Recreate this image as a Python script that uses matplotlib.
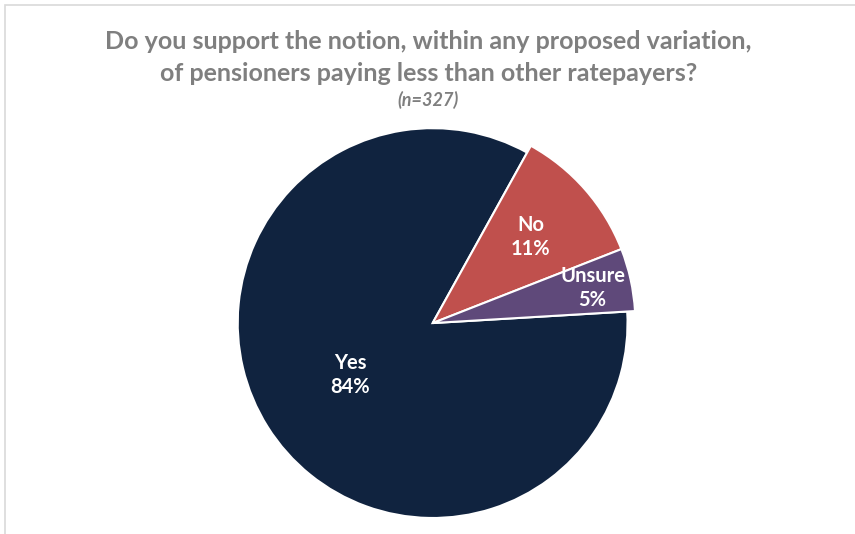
import matplotlib
matplotlib.use("Agg")
import matplotlib.pyplot as plt
import numpy as np

labels = ["Yes", "No", "Unsure"]
values = [84, 11, 5]
colors = ["#10233f", "#c0504d", "#5f497a"]

title_lines = ["Do you support the notion, within any proposed variation,",
               "of pensioners paying less than other ratepayers?"]
subtitle = "(n=327)"

# per-slice styling
radii = [1.0, 1.04, 1.04]
label_dist = [0.50, 0.67, 0.84]

plt.rcParams["font.family"] = ["Lato", "DejaVu Sans"]

fig = plt.figure(figsize=(8.55, 5.34), dpi=100)
fig.patches.append(plt.Rectangle((0.006, -0.1), 1.1, 1.09, transform=fig.transFigure,
                                 fill=False, edgecolor="#d9d9d9", linewidth=1.2))

ax = fig.add_axes([0.278, 0.030, 0.456, 0.730])
wedges, _ = ax.pie(values, colors=colors, startangle=3.4, counterclock=False,
                   wedgeprops=dict(edgecolor="white", linewidth=1.5))
for w, r in zip(wedges, radii):
    w.set_radius(r)
    w.set_clip_on(False)

for w, lab, v, d in zip(wedges, labels, values, label_dist):
    mid = np.deg2rad((w.theta1 + w.theta2) / 2)
    ax.text(d * np.cos(mid), d * np.sin(mid), f"{lab}\n{v}%", ha="center", va="center",
            color="white", fontsize=14.5, fontweight="bold", linespacing=1.25)
ax.set_xlim(-1, 1)
ax.set_ylim(-1, 1)
ax.set_aspect("equal")

fig.text(0.501, 0.922, title_lines[0], ha="center", va="center", fontsize=18,
         fontweight="bold", color="#7f7f7f")
fig.text(0.501, 0.863, title_lines[1], ha="center", va="center", fontsize=18,
         fontweight="bold", color="#7f7f7f")
fig.text(0.501, 0.812, subtitle, ha="center", va="center", fontsize=13,
         fontweight="bold", fontstyle="italic", color="#7f7f7f")

fig.savefig("out.png", dpi=100)
